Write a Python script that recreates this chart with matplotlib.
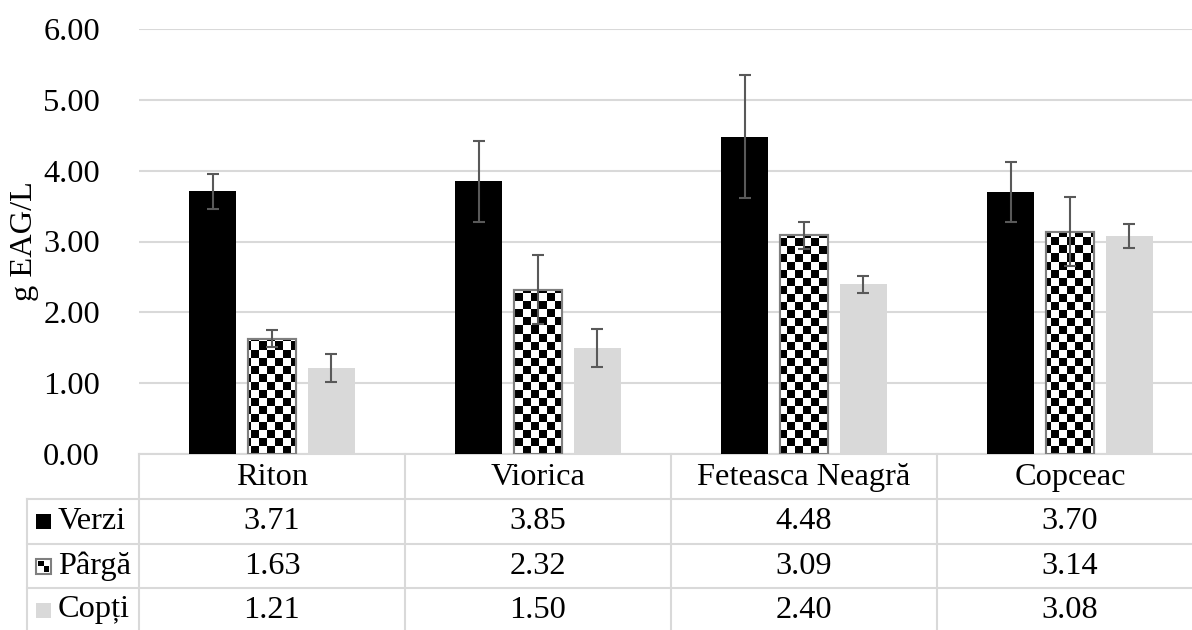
import numpy as np
import matplotlib
matplotlib.use("Agg")
import matplotlib.pyplot as plt
from matplotlib.patches import Rectangle
from matplotlib.lines import Line2D

# data
categories = ["Riton", "Viorica", "Feteasca Neagră", "Copceac"]
series_names = ["Verzi", "Pârgă", "Copți"]
verzi = [3.71, 3.85, 4.48, 3.70]
parga = [1.63, 2.32, 3.09, 3.14]
copti = [1.21, 1.50, 2.40, 3.08]
verzi_err = [0.25, 0.57, 0.87, 0.42]
parga_err = [0.12, 0.49, 0.19, 0.49]
copti_err = [0.20, 0.27, 0.12, 0.17]
yticks = [0, 1, 2, 3, 4, 5, 6]

W, H = 1192, 630
FONT = "Liberation Serif"
FS = 23.3
GRID = "#d9d9d9"
ERR = "#595959"

plt.rcParams["font.family"] = [FONT, "DejaVu Serif"]


def fx(px):
    return px / W


def fy(py):
    return 1 - py / H


fig = plt.figure(figsize=(W / 100, H / 100), dpi=100)
# plot area: x 139..1203 px (runs past the right edge), y 29..454 px
ax = fig.add_axes([fx(139), fy(454), fx(1064), 425 / H])
ax.set_xlim(-0.5, 3.5)
ax.set_ylim(0, 6)

x = np.arange(len(categories))
off = 0.222
bw = 0.177
series = [verzi, parga, copti]
errs = [verzi_err, parga_err, copti_err]

ax.bar(x - off, verzi, bw, color="black", zorder=2)
pbars = ax.bar(x, parga, bw, color="white", edgecolor="#7f7f7f",
               linewidth=1.5, zorder=2)
ax.bar(x + off, copti, bw, color="#d9d9d9", zorder=2)

# checkerboard fill for the Pârgă bars (8 px squares)
dx, dy = 8 / 266, 8 / (425 / 6)
nx, ny = int(np.ceil(4 / dx)), int(np.ceil(6 / dy))
board = (np.add.outer(np.arange(ny), np.arange(nx)) % 2).astype(float)
for b in pbars:
    im = ax.imshow(board, cmap="gray", vmin=0, vmax=1, origin="lower",
                   extent=(-0.5, -0.5 + nx * dx, 0, ny * dy),
                   interpolation="nearest", aspect="auto", zorder=2.5)
    im.set_clip_path(b)
    edge = Rectangle(b.get_xy(), b.get_width(), b.get_height(), fill=False,
                     edgecolor="#7f7f7f", linewidth=1.5, zorder=2.6)
    ax.add_patch(edge)

for shift, vals, e in zip([-off, 0, off], series, errs):
    ax.errorbar(x + shift, vals, yerr=e, fmt="none", ecolor=ERR,
                elinewidth=1.5, capsize=4.5, capthick=1.5, zorder=3)

ax.set_xlim(-0.5, 3.5)
ax.set_ylim(0, 6)
ax.set_yticks(yticks)
ax.set_yticklabels([f"{v:.2f}" for v in yticks], fontsize=FS)
ax.tick_params(axis="y", length=0, pad=28)
ax.set_xticks([])
ax.yaxis.grid(True, color=GRID, linewidth=1.5, zorder=0)
ax.set_axisbelow(True)
for s in ax.spines.values():
    s.set_visible(False)
ax.axhline(0, color=GRID, linewidth=1.5, zorder=1, clip_on=False)
ax.set_ylabel("g EAG/L", fontsize=FS)
ax.yaxis.set_label_coords((39 - 139) / 1064, 0.5)

# data table under the plot
col_edges = [139 + 266 * i for i in range(5)]
row_edges = [454, 499, 544, 588, 632]


def hline(x0, x1, y):
    fig.add_artist(Line2D([fx(x0), fx(x1)], [fy(y), fy(y)], color=GRID,
                          linewidth=1.5))


def vline(xp, y0, y1):
    fig.add_artist(Line2D([fx(xp), fx(xp)], [fy(y0), fy(y1)], color=GRID,
                          linewidth=1.5))


for y in row_edges[1:4]:
    hline(27, W + 20, y)
vline(27, 499, 632)
for xp in col_edges:
    vline(xp, 454, 632)

for i, cat in enumerate(categories):
    cx = (col_edges[i] + col_edges[i + 1]) / 2
    fig.text(fx(cx), fy((row_edges[0] + row_edges[1]) / 2 + 1), cat,
             ha="center", va="center", fontsize=FS)
    for r, vals in enumerate(series):
        cy = (row_edges[r + 1] + row_edges[r + 2]) / 2
        fig.text(fx(cx), fy(cy), f"{vals[i]:.2f}", ha="center",
                 va="center", fontsize=FS)

# row labels with legend swatches
sw = 15
for r, name in enumerate(series_names):
    cy = (row_edges[r + 1] + row_edges[r + 2]) / 2
    x0, y0 = 36, cy - sw / 2
    if r == 0:
        fig.add_artist(Rectangle((fx(x0), fy(y0 + sw)), sw / W, sw / H,
                                 facecolor="black", edgecolor="none"))
    elif r == 1:
        fig.add_artist(Rectangle((fx(x0), fy(y0 + sw)), sw / W, sw / H,
                                 facecolor="white", edgecolor="#7f7f7f",
                                 linewidth=1.5))
        h = (sw - 4) / 2
        for (ix, iy) in [(0, 0), (1, 1)]:
            fig.add_artist(Rectangle((fx(x0 + 2 + ix * h),
                                      fy(y0 + 2 + (iy + 1) * h)),
                                     h / W, h / H, facecolor="black",
                                     edgecolor="none"))
    else:
        fig.add_artist(Rectangle((fx(x0), fy(y0 + sw)), sw / W, sw / H,
                                 facecolor="#d9d9d9", edgecolor="none"))
    fig.text(fx(58), fy(cy), name, ha="left", va="center", fontsize=FS)

fig.savefig("out.png", dpi=100)
